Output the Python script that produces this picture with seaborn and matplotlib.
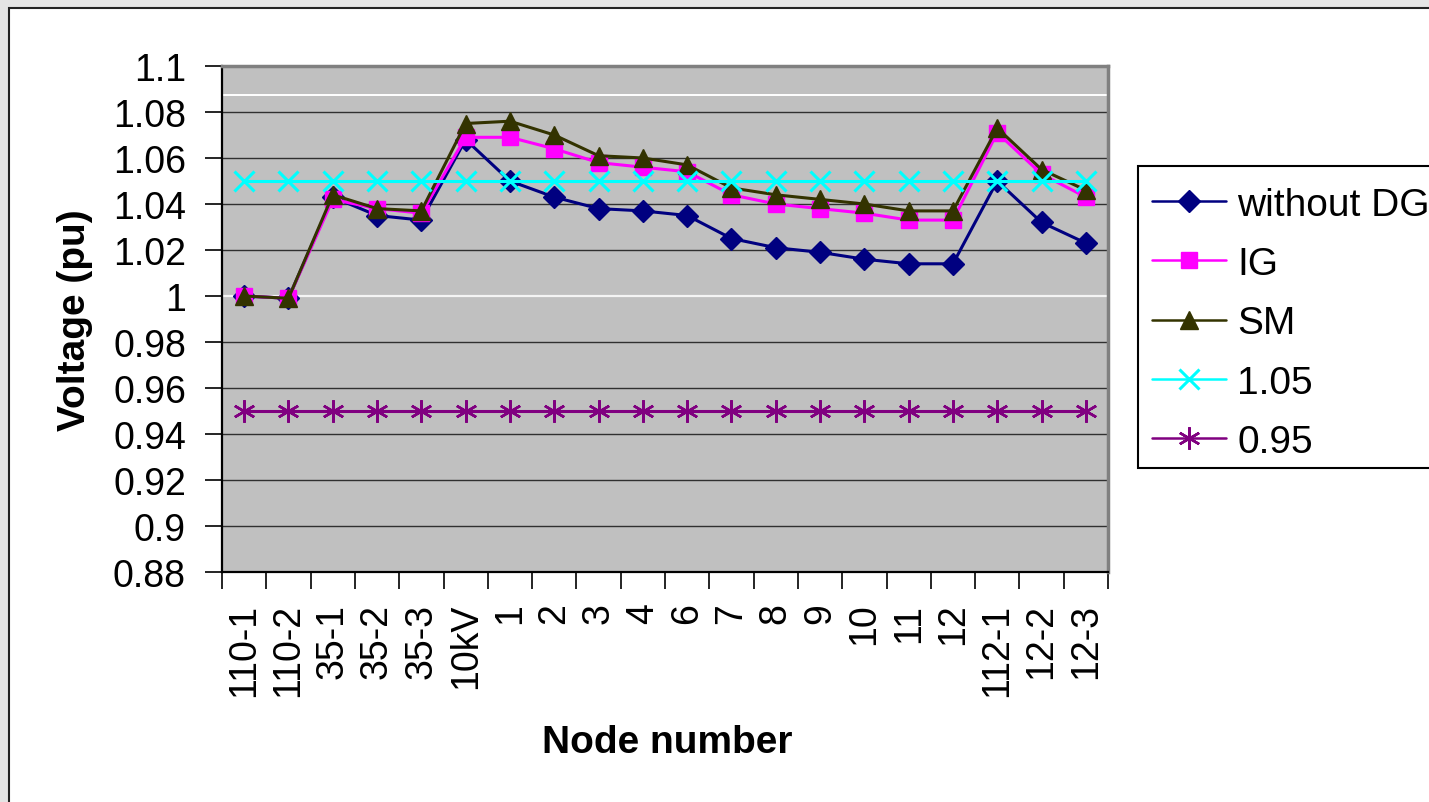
import numpy as np
import pandas as pd
import matplotlib
matplotlib.use("Agg")
import matplotlib.pyplot as plt
import seaborn as sns
from matplotlib.patches import Rectangle

# ---------------- data ----------------
nodes = ["110-1", "110-2", "35-1", "35-2", "35-3", "10kV", "1", "2", "3", "4",
         "6", "7", "8", "9", "10", "11", "12", "112-1", "12-2", "12-3"]
without_dg = [1.000, 0.999, 1.043, 1.035, 1.033, 1.068, 1.050, 1.043, 1.038, 1.037,
              1.035, 1.025, 1.021, 1.019, 1.016, 1.014, 1.014, 1.050, 1.032, 1.023]
ig = [1.000, 0.999, 1.042, 1.038, 1.036, 1.069, 1.069, 1.064, 1.058, 1.056,
      1.054, 1.044, 1.040, 1.038, 1.036, 1.033, 1.033, 1.071, 1.053, 1.043]
sm = [1.000, 0.999, 1.044, 1.038, 1.037, 1.075, 1.076, 1.070, 1.061, 1.060,
      1.057, 1.047, 1.044, 1.042, 1.040, 1.037, 1.037, 1.073, 1.055, 1.046]
upper = [1.05, 1.05, 1.05, 1.05, 1.05, 1.05, 1.05, 1.05, 1.05, 1.05,
         1.05, 1.05, 1.05, 1.05, 1.05, 1.05, 1.05, 1.05, 1.05, 1.05]
lower = [0.95, 0.95, 0.95, 0.95, 0.95, 0.95, 0.95, 0.95, 0.95, 0.95,
         0.95, 0.95, 0.95, 0.95, 0.95, 0.95, 0.95, 0.95, 0.95, 0.95]
series_names = ["without DG", "IG", "SM", "1.05", "0.95"]
yticks = [0.88, 0.9, 0.92, 0.94, 0.96, 0.98, 1.0, 1.02, 1.04, 1.06, 1.08, 1.1]
ytick_labels = ["0.88", "0.9", "0.92", "0.94", "0.96", "0.98", "1", "1.02", "1.04", "1.06", "1.08", "1.1"]

# ---------------- style ----------------
sns.set_style("white")
plt.rcParams["font.family"] = ["Liberation Sans", "DejaVu Sans"]
plt.rcParams["text.color"] = "black"
plt.rcParams["axes.labelcolor"] = "black"
plt.rcParams["xtick.color"] = "black"
plt.rcParams["ytick.color"] = "black"

W, H = 1429, 803
fig = plt.figure(figsize=(W / 100, H / 100), dpi=100)
fig.patch.set_facecolor("#e4e4e4")
fig.patches.append(Rectangle((9 / W, -0.02), 1.1, (H - 9) / H + 0.02,
                             transform=fig.transFigure, facecolor="white",
                             edgecolor="#222222", linewidth=1.5, zorder=-10))
# legend frame (extends past the right edge as in the reference)
fig.patches.append(Rectangle((1138 / W, 1 - 469 / H), 0.3, (469 - 167) / H,
                             transform=fig.transFigure, facecolor="white",
                             edgecolor="black", linewidth=1.5, zorder=-5))

ax = fig.add_axes([222 / W, 1 - 573 / H, (1108 - 222) / W, (573 - 67) / H])
ax.set_zorder(5)
ax.set_facecolor("#c0c0c0")

x = np.arange(len(nodes))
styles = [
    (without_dg, "#000080", "D", 11, 1.0),
    (ig, "#ff00ff", "s", 11, 1.0),
    (sm, "#333300", "^", 13, 1.0),
    (upper, "#00ffff", "x", 14, 2.2),
    (lower, "#800080", (6, 2, 0), 16, 1.8),
]
for name, (vals, col, mk, ms, mew) in zip(series_names, styles):
    df = pd.DataFrame({"node": x, "v": vals})
    sns.lineplot(data=df, x="node", y="v", ax=ax, color=col, marker=mk,
                 markersize=ms, markeredgewidth=mew, markeredgecolor=col,
                 markerfacecolor=col, linewidth=2.2, label=name, sort=False,
                 zorder=3)

# gridlines
for yv in yticks:
    if abs(yv - 1.0) < 1e-9:
        ax.axhline(yv, color="#f4f4f4", lw=1.6, zorder=1)
    else:
        ax.axhline(yv, color="#303030", lw=1.0, zorder=1)
ax.axhline(1.0875, color="white", lw=1.4, zorder=1)

ax.set_xlim(-0.5, len(nodes) - 0.5)
ax.set_ylim(0.88, 1.1)
ax.set_yticks(yticks)
ax.set_yticklabels(ytick_labels, fontsize=27)
ax.set_xticks(x)
ax.set_xticklabels(nodes, rotation=90, fontsize=27)
ax.set_xticks(np.arange(-0.5, len(nodes), 1.0), minor=True)
ax.tick_params(axis="x", which="major", length=0, pad=22)
ax.tick_params(axis="x", which="minor", length=12, width=1.2, color="black", direction="out", bottom=True)
ax.tick_params(axis="y", which="major", length=12, width=1.2, color="black", direction="out", left=True, pad=14)

for s in ["left", "bottom"]:
    ax.spines[s].set_color("black")
    ax.spines[s].set_linewidth(1.6)
for s in ["top", "right"]:
    ax.spines[s].set_color("#808080")
    ax.spines[s].set_linewidth(2.5)

ax.set_xlabel("Node number", fontsize=28, fontweight="bold")
ax.set_ylabel("Voltage (pu)", fontsize=28, fontweight="bold")
ax.xaxis.set_label_coords((667 - 222) / 886, (573 - 743) / 506)
ax.xaxis.label.set_va("center")
ax.yaxis.set_label_coords((75 - 222) / 886, 0.5)
ax.yaxis.label.set_va("center")

leg = ax.legend(loc="upper left", bbox_to_anchor=(1138 / W, 1 - 174 / H),
                bbox_transform=fig.transFigure, fontsize=28, frameon=False,
                handlelength=1.9, handletextpad=0.3, borderpad=0.35,
                labelspacing=0.6, borderaxespad=0)
for t in leg.get_texts():
    t.set_color("black")
for ln in leg.get_lines():
    ln.set_linewidth(1.8)

fig.savefig("out.png", dpi=100, facecolor=fig.get_facecolor())
